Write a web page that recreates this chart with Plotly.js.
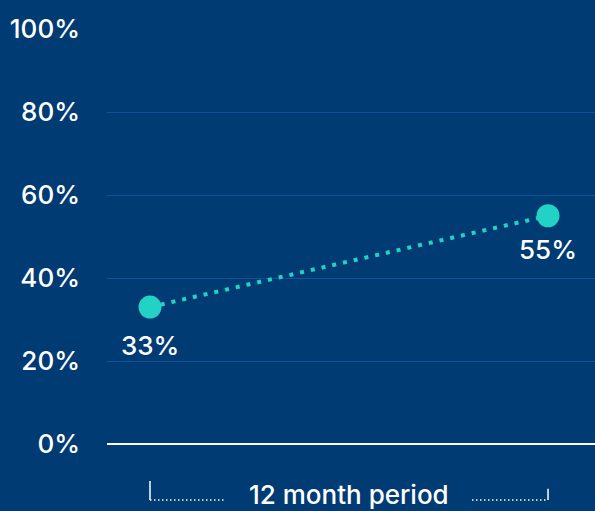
<!DOCTYPE html>
<html><head><meta charset="utf-8">
<script src="https://cdn.plot.ly/plotly-3.0.1.min.js"></script>
<style>html,body{margin:0;padding:0;background:#003b73;}</style>
</head><body>
<div id="chart" style="width:595px;height:511px;"></div>
<script>
const periods = [0, 1];
const values = [33, 55];
const valueLabels = ['33%', '55%'];
const tickVals = [0, 20, 40, 60, 80, 100];
const tickText = ['0%', '20%', '40%', '60%', '80%', '100%'];
const periodLabel = '12 month period';

const navy = '#003b73';
const teal = '#22d3c5';
const font = 'Inter, Lato, sans-serif';

const trace = {
  x: periods, y: values, type: 'scatter', mode: 'lines+markers',
  line: {color: teal, width: 4, dash: '4px,7px'},
  marker: {color: teal, size: 23},
  hoverinfo: 'skip'
};

const annotations = periods.map((p, i) => ({
  x: p, y: values[i], xref: 'x', yref: 'y', text: valueLabels[i],
  showarrow: false, yshift: i === 0 ? -38 : -34, yanchor: 'middle',
  font: {family: font, size: 26, color: '#ffffff', weight: 500}
}));
annotations.push({
  x: (periods[0] + periods[1]) / 2, y: -0.122, xref: 'x', yref: 'paper',
  text: periodLabel, showarrow: false, yanchor: 'middle',
  font: {family: font, size: 26, color: '#ffffff', weight: 500}
});

const bracketY = -0.135;
const shapes = [
  {type: 'line', xref: 'x', yref: 'paper', x0: periods[0], x1: periods[0], y0: bracketY, y1: -0.089, line: {color: '#ffffff', width: 1.5}},
  {type: 'line', xref: 'x', yref: 'paper', x0: periods[1], x1: periods[1], y0: bracketY, y1: -0.108, line: {color: '#ffffff', width: 1.5}},
  {type: 'line', xref: 'x', yref: 'paper', x0: periods[0], x1: 0.19, y0: bracketY, y1: bracketY, line: {color: '#ffffff', width: 1.5, dash: '1.5px,2.5px'}},
  {type: 'line', xref: 'x', yref: 'paper', x0: 0.809, x1: periods[1], y0: bracketY, y1: bracketY, line: {color: '#ffffff', width: 1.5, dash: '1.5px,2.5px'}}
];

const layout = {
  width: 595, height: 511,
  margin: {l: 107, r: 0, t: 29, b: 67},
  paper_bgcolor: navy, plot_bgcolor: navy,
  showlegend: false,
  font: {family: font, color: '#ffffff'},
  xaxis: {range: [-0.108, 1.118], showgrid: false, zeroline: false, showticklabels: false, showline: false, fixedrange: true},
  yaxis: {range: [0, 100], tickvals: tickVals, ticktext: tickText,
    showgrid: true, gridcolor: '#115299', gridwidth: 1,
    zeroline: true, zerolinecolor: '#ffffff', zerolinewidth: 1.5,
    showline: false, ticklabelstandoff: 26,
    tickfont: {family: font, size: 26, color: '#ffffff', weight: 500}, fixedrange: true},
  shapes: shapes,
  annotations: annotations
};

Plotly.newPlot('chart', [trace], layout, {displayModeBar: false, staticPlot: true});
</script>
</body></html>
